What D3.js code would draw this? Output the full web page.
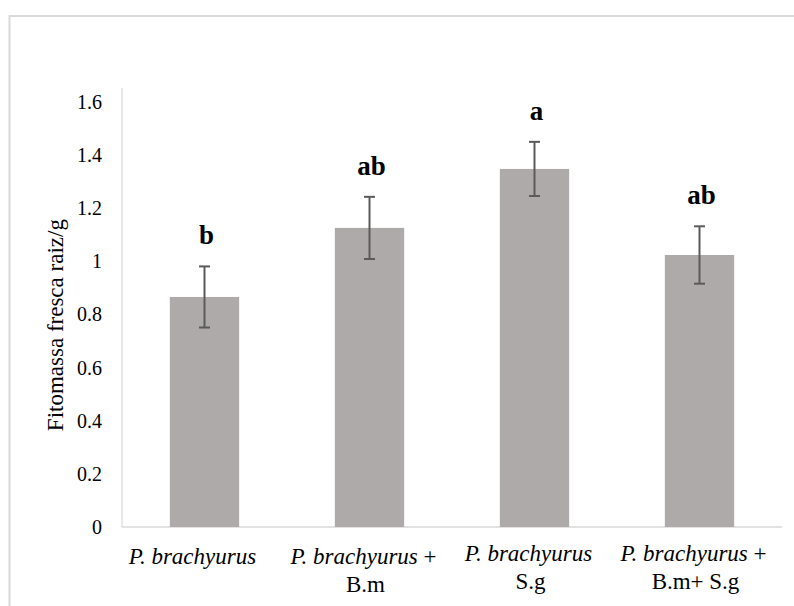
<!DOCTYPE html>
<html>
<head>
<meta charset="utf-8">
<script src="https://cdn.jsdelivr.net/npm/d3@7.9.0/dist/d3.min.js"></script>
<style>
  body { margin: 0; background: #fff; }
</style>
</head>
<body>
<svg id="chart" width="794" height="606"></svg>
<script>
// chart data
const categories = ["P. brachyurus", "P. brachyurus + B.m", "P. brachyurus S.g", "P. brachyurus + B.m+ S.g"];
const labelSecondLine = ["", "B.m", "S.g", "B.m+ S.g"];
const labelPlus = [false, true, false, true];
const means = [0.866, 1.126, 1.348, 1.024];
const errors = [0.115, 0.117, 0.102, 0.108];
const letters = ["b", "ab", "a", "ab"];
const yTicks = [0, 0.2, 0.4, 0.6, 0.8, 1, 1.2, 1.4, 1.6];

const FONT = "'Liberation Serif', Tinos, 'Times New Roman', Times, 'DejaVu Serif', serif";

const svg = d3.select('#chart');

// outer frame (only top and left visible)
svg.append('rect')
  .attr('x', 9.5).attr('y', 16)
  .attr('width', 900).attr('height', 700)
  .attr('fill', 'none')
  .attr('stroke', '#d9d9d9')
  .attr('stroke-width', 2);

const x = d3.scaleBand()
  .domain(categories)
  .range([122, 782])
  .paddingInner(0.58)
  .paddingOuter(0.29);

const y = d3.scaleLinear()
  .domain([0, 1.6])
  .range([527, 102]);

// axis lines
svg.append('line')
  .attr('x1', 122).attr('x2', 122)
  .attr('y1', y(0)).attr('y2', y(1.653))
  .attr('stroke', '#d9d9d9').attr('stroke-width', 1.2);
svg.append('line')
  .attr('x1', 122).attr('x2', 782)
  .attr('y1', y(0)).attr('y2', y(0))
  .attr('stroke', '#d9d9d9').attr('stroke-width', 1.5);

// y tick labels
const yAxis = svg.append('g')
  .attr('transform', 'translate(122,0)')
  .call(d3.axisLeft(y).tickValues(yTicks).tickSize(0).tickPadding(20).tickFormat(d => String(d)));
yAxis.select('.domain').remove();
yAxis.attr('font-family', null).attr('font-size', null);
yAxis.selectAll('text')
  .style('font-family', FONT)
  .style('font-size', '20px')
  .attr('fill', '#000');

// y title
svg.append('text')
  .attr('transform', `translate(63,${y(0.76)}) rotate(-90)`)
  .attr('text-anchor', 'middle')
  .style('font-family', FONT)
  .style('font-size', '23px')
  .text('Fitomassa fresca raiz/g');

// bars
svg.selectAll('rect.bar')
  .data(means)
  .join('rect')
  .attr('class', 'bar')
  .attr('x', (d, i) => x(categories[i]))
  .attr('y', d => y(d))
  .attr('width', x.bandwidth())
  .attr('height', d => y(0) - y(d))
  .attr('fill', '#aeaaa9');

// error bars
const cap = 5.5;
means.forEach((m, i) => {
  const cx = x(categories[i]) + x.bandwidth() / 2;
  const g = svg.append('g').attr('stroke', '#5a5a5a').attr('stroke-width', 2);
  g.append('line').attr('x1', cx).attr('x2', cx).attr('y1', y(m - errors[i])).attr('y2', y(m + errors[i]));
  g.append('line').attr('x1', cx - cap).attr('x2', cx + cap).attr('y1', y(m - errors[i])).attr('y2', y(m - errors[i]));
  g.append('line').attr('x1', cx - cap).attr('x2', cx + cap).attr('y1', y(m + errors[i])).attr('y2', y(m + errors[i]));

  // significance letters
  svg.append('text')
    .attr('x', cx + 2)
    .attr('y', y(m + errors[i]) - 22)
    .attr('text-anchor', 'middle')
    .style('font-family', FONT)
    .style('font-size', '27px')
    .style('font-weight', 'bold')
    .text(letters[i]);
});

// x category labels
categories.forEach((c, i) => {
  const cx = x(c) + x.bandwidth() / 2;
  const t = svg.append('text')
    .attr('x', i === 0 ? cx - 12 : cx - 6)
    .attr('y', i < 2 ? 564 : 561)
    .attr('text-anchor', 'middle')
    .style('font-family', FONT)
    .style('font-size', '23px');
  t.append('tspan').style('font-style', 'italic').text('P. brachyurus');
  if (labelPlus[i]) t.append('tspan').text(' +');
  if (labelSecondLine[i]) {
    svg.append('text')
      .attr('x', cx - 4)
      .attr('y', i < 2 ? 592 : 589)
      .attr('text-anchor', 'middle')
      .style('font-family', FONT)
      .style('font-size', '23px')
      .text(labelSecondLine[i]);
  }
});
</script>
</body>
</html>
